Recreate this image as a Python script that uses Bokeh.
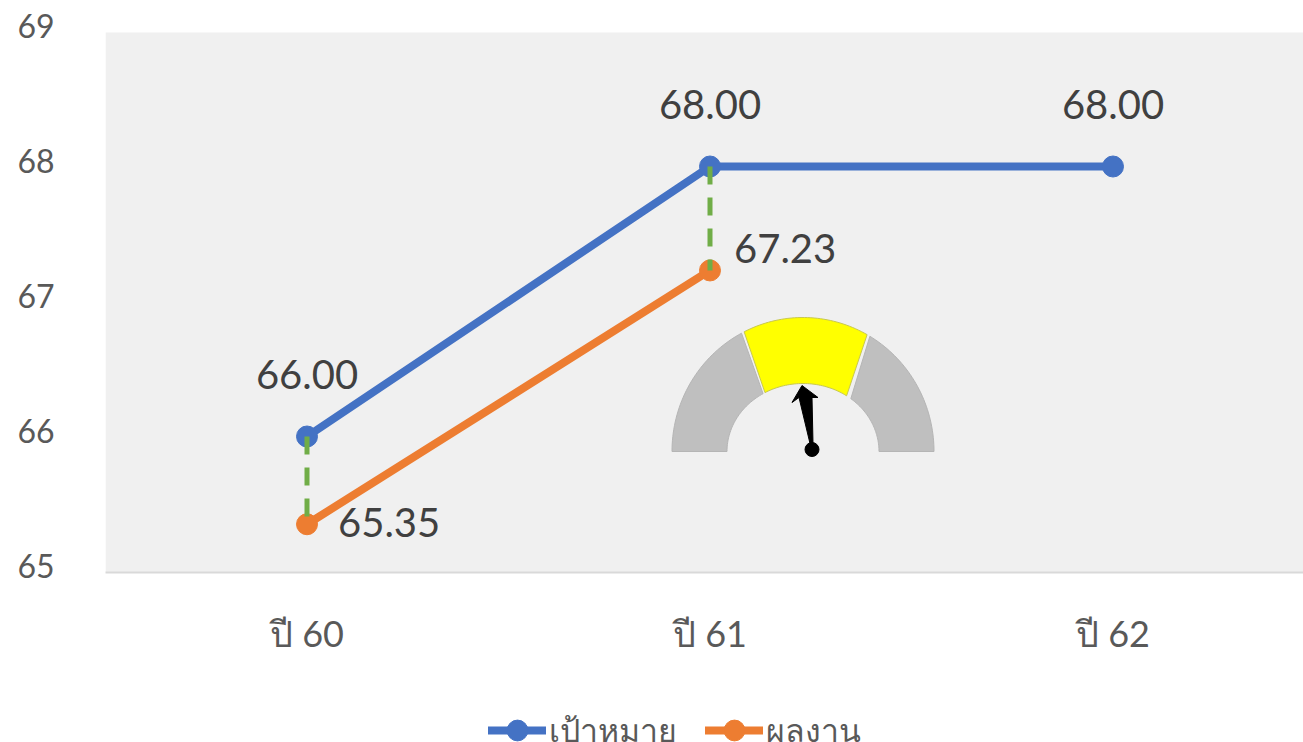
from bokeh.plotting import figure
from bokeh.embed import file_html
from bokeh.resources import INLINE
from bokeh.layouts import column
from bokeh.models import FixedTicker, Range1d, Legend, LegendItem, LinearAxis, BoxAnnotation
from bokeh.core.properties import value
import numpy as np

categories = ["ปี 60", "ปี 61", "ปี 62"]
target = [66.00, 68.00, 68.00]
actual = [65.35, 67.23]
target_labels = ["66.00", "68.00", "68.00"]
actual_labels = ["65.35", "67.23"]
y_ticks = [65, 66, 67, 68, 69]
series_names = ["เป้าหมาย", "ผลงาน"]
font = "Lato"
BLUE, ORANGE, GREEN = "#4472c4", "#ed7d31", "#70ad47"

W, H, LEG_H = 1303, 700, 42
L, T, B = 105, 20, 128
PX_X, PX_Y = 403.0, 135.0
y0 = 65 - 1 / PX_Y
y1 = y0 + (H - T - B) / PX_Y
x0 = -0.5
x1 = x0 + (W - L) / PX_X
p = figure(width=W, height=H, output_backend="svg", toolbar_location=None,
           x_range=Range1d(x0, x1), y_range=Range1d(y0, y1),
           min_border_left=L, min_border_right=0, min_border_top=T, min_border_bottom=B,
           y_axis_location=None)
p.background_fill_color = "white"
p.border_fill_color = "white"
p.outline_line_color = None
p.grid.visible = False
p.add_layout(BoxAnnotation(top=69 - 1 / PX_Y, fill_color="#f0f0f0", fill_alpha=1, line_color=None, level="underlay"))

p.xaxis.ticker = FixedTicker(ticks=[0, 1, 2])
p.xaxis.major_label_overrides = {i: c for i, c in enumerate(categories)}
p.xaxis.major_tick_line_color = None
p.xaxis.minor_tick_line_color = None
p.xaxis.axis_line_color = "#d9d9d9"
p.xaxis.axis_line_width = 2
p.xaxis.major_label_text_font = font
p.xaxis.major_label_text_font_size = "36px"
p.xaxis.major_label_text_color = "#595959"
p.xaxis.major_label_standoff = 32

# value axis is drawn a few pixels above its marks, as in the source chart
shift = 5.5 / PX_Y
p.extra_y_ranges = {"labels": Range1d(y0 - shift, y1 - shift)}
yaxis = LinearAxis(y_range_name="labels", ticker=FixedTicker(ticks=y_ticks))
yaxis.axis_line_color = None
yaxis.major_tick_line_color = None
yaxis.minor_tick_line_color = None
yaxis.major_label_text_font = font
yaxis.major_label_text_font_size = "32px"
yaxis.major_label_text_color = "#595959"
yaxis.major_label_standoff = 45
p.add_layout(yaxis, "left")

p.line([0, 1, 2], target, line_color=BLUE, line_width=8, line_cap="round")
p.scatter([0, 1, 2], target, size=21, fill_color=BLUE, line_color=BLUE)
p.line([0, 1], actual, line_color=ORANGE, line_width=8, line_cap="round")
p.scatter([0, 1], actual, size=21, fill_color=ORANGE, line_color=ORANGE)

# Drop lines, over the markers
p.segment([0, 1], target[:2], [0, 1], actual, line_color=GREEN, line_width=5, line_dash="18 13")

p.text([0, 1, 2], target, text=target_labels, text_font=value(font), text_font_size="40px",
       text_color="#404040", text_align="center", text_baseline="middle", y_offset=-62)
p.text([0, 1], actual, text=actual_labels, text_font=value(font), text_font_size="40px",
       text_color="#404040", text_align="left", text_baseline="middle", x_offset=[31, 24], y_offset=[-2, -22])

# Gauge picture, placed on the chart in pixels of the page
def px(x, y):
    return ((np.asarray(x) - 307) / PX_X).tolist(), (68 - (np.asarray(y) - 166) / PX_Y).tolist()

def ring(o0, o1, i0, i1, cx=803, cy=451, orx=131, ory=134, irx=76, iry=68):
    to = np.radians(np.linspace(o0, o1, 40))
    ti = np.radians(np.linspace(i1, i0, 40))
    xs = np.r_[cx + orx * np.cos(to), cx + irx * np.cos(ti)]
    ys = np.r_[cy - ory * np.sin(to), cy - iry * np.sin(ti)]
    return px(xs, ys)

for o0, o1, i0, i1, col, edge in [(0, 59.3, 0, 51, "#bfbfbf", "#b5b5b5"),
                                  (60.7, 116.7, 55, 120, "#ffff00", "#c8c850"),
                                  (118, 180, 121.7, 180, "#bfbfbf", "#b5b5b5")]:
    xs, ys = ring(o0, o1, i0, i1)
    p.patch(xs, ys, fill_color=col, line_color=edge, line_width=1)

xs, ys = px([802, 818, 812, 813, 810, 799, 792], [385, 397, 397, 443, 443, 397, 402])
p.patch(xs, ys, fill_color="black", line_color="black")
xs, ys = px([812], [449])
p.scatter(xs, ys, size=14, fill_color="black", line_color="black")

# Legend strip under the chart: the series sit outside this strip's range, only their keys show
q = figure(width=W, height=LEG_H, output_backend="svg", toolbar_location=None,
           x_range=Range1d(0, 1), y_range=Range1d(0, 1), x_axis_location=None, y_axis_location=None,
           min_border_left=0, min_border_right=0, min_border_top=0, min_border_bottom=0)
q.outline_line_color = None
q.grid.visible = False
a1 = q.line([0, 1, 2], target, line_color=BLUE, line_width=8, line_cap="round")
a2 = q.scatter([0, 1, 2], target, size=21, fill_color=BLUE, line_color=BLUE)
b1 = q.line([0, 1], actual, line_color=ORANGE, line_width=8, line_cap="round")
b2 = q.scatter([0, 1], actual, size=21, fill_color=ORANGE, line_color=ORANGE)
legend = Legend(items=[LegendItem(label=series_names[0], renderers=[a1, a2]),
                       LegendItem(label=series_names[1], renderers=[b1, b2])],
                orientation="horizontal", location=(383, -14), background_fill_alpha=0, border_line_color=None,
                label_text_font=font, label_text_font_size="32px", label_text_color="#595959",
                glyph_width=58, glyph_height=52, spacing=28, label_standoff=3, margin=0, padding=0)
q.add_layout(legend)

open("out.html", "w").write(file_html(column(p, q, spacing=0), INLINE))
